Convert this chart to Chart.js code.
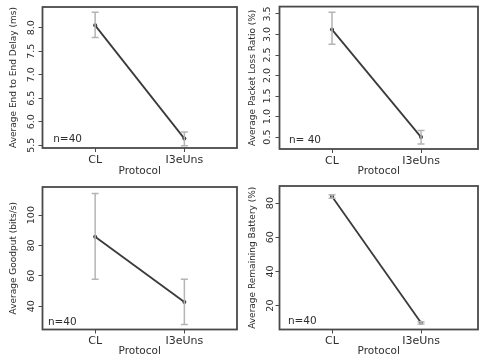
<!DOCTYPE html>
<html><head><meta charset="utf-8">
<script src="https://cdn.jsdelivr.net/npm/chart.js@4.4.0/dist/chart.umd.min.js"></script>
<style>
html,body{margin:0;padding:0;background:#fff;width:482px;height:358px;overflow:hidden}
canvas{position:absolute}
</style></head><body>
<canvas id="c1" width="241" height="179" style="left:0;top:0"></canvas>
<canvas id="c2" width="241" height="179" style="left:241px;top:0"></canvas>
<canvas id="c3" width="241" height="179" style="left:0;top:179px"></canvas>
<canvas id="c4" width="241" height="179" style="left:241px;top:179px"></canvas>
<script>
// ---- data ----
const categories = ['CL', 'I3eUns'];
const xAxisTitle = 'Protocol';
const sampleNotes = ['n=40', 'n= 40', 'n=40', 'n=40'];

const delayTitle = 'Average End to End Delay (ms)';
const delayMean = [8.05, 5.64];
const delayLow = [7.79, 5.49];
const delayHigh = [8.33, 5.78];
const delayTicks = [5.5, 6.0, 6.5, 7.0, 7.5, 8.0];
const delayRange = [5.44, 8.44];

const lossTitle = 'Average Packet Loss Ratio (%)';
const lossMean = [3.12, 0.50];
const lossLow = [2.76, 0.33];
const lossHigh = [3.54, 0.66];
const lossTicks = [0.5, 1.0, 1.5, 2.0, 2.5, 3.0, 3.5];
const lossRange = [0.21, 3.68];

const goodputTitle = 'Average Goodput (bits/s)';
const goodputMean = [85.8, 42.8];
const goodputLow = [57.8, 28.0];
const goodputHigh = [114.2, 57.8];
const goodputTicks = [40, 60, 80, 100];
const goodputRange = [24.7, 118.5];

const batteryTitle = 'Average Remaining Battery (%)';
const batteryMean = [83.9, 9.9];
const batteryLow = [82.9, 9.2];
const batteryHigh = [84.9, 10.6];
const batteryTicks = [20, 40, 60, 80];
const batteryRange = [6.0, 90.0];

// ---- layout / style ----
const FONT = 'DejaVu Sans';
const panels = [
  {id:'c1', title:delayTitle, mean:delayMean, low:delayLow, high:delayHigh, ticks:delayTicks, range:delayRange, dec:1, note:sampleNotes[0],
   area:{left:42.5, right:240, top:7, bottom:148}, xr:[0.41,2.59], tickPad:-0.8, titlePad:7.9, noteDx:10.7, noteDy:8.7, xTitlePad:1.5},
  {id:'c2', title:lossTitle, mean:lossMean, low:lossLow, high:lossHigh, ticks:lossTicks, range:lossRange, dec:1, note:sampleNotes[1],
   area:{left:38.5, right:240, top:5.5, bottom:149}, xr:[0.41,2.64], tickPad:0.9, titlePad:6.3, noteDx:9.4, noteDy:9, xTitlePad:1.5},
  {id:'c3', title:goodputTitle, mean:goodputMean, low:goodputLow, high:goodputHigh, ticks:goodputTicks, range:goodputRange, dec:0, note:sampleNotes[2],
   area:{left:42.5, right:240, top:8, bottom:150.5}, xr:[0.41,2.59], tickPad:-2.4, titlePad:7.9, noteDx:5.4, noteDy:7.4, xTitlePad:0},
  {id:'c4', title:batteryTitle, mean:batteryMean, low:batteryLow, high:batteryHigh, ticks:batteryTicks, range:batteryRange, dec:0, note:sampleNotes[3],
   area:{left:38.5, right:240, top:7, bottom:150.5}, xr:[0.41,2.64], tickPad:-1, titlePad:6.3, noteDx:8.4, noteDy:8, xTitlePad:0}
];

const extrasPlugin = {
  id: 'extras',
  afterDatasetsDraw(chart) {
    const p = chart.options.plugins.extras;
    const {ctx} = chart;
    const xs = chart.scales.x, ys = chart.scales.y;
    ctx.save();
    ctx.strokeStyle = '#b4b4b4';
    ctx.lineWidth = 1.5;
    p.low.forEach((lo, i) => {
      const x = xs.getPixelForValue(i + 1);
      const yl = ys.getPixelForValue(lo), yh = ys.getPixelForValue(p.high[i]);
      ctx.beginPath();
      ctx.moveTo(x, yl); ctx.lineTo(x, yh);
      ctx.moveTo(x - 3.5, yl); ctx.lineTo(x + 3.5, yl);
      ctx.moveTo(x - 3.5, yh); ctx.lineTo(x + 3.5, yh);
      ctx.stroke();
    });
    ctx.restore();
  },
  afterDraw(chart) {
    const p = chart.options.plugins.extras;
    const {ctx, chartArea: a} = chart;
    ctx.save();
    ctx.strokeStyle = '#4a4a4a';
    ctx.lineWidth = 1.8;
    ctx.strokeRect(a.left, a.top, a.right - a.left, a.bottom - a.top);
    ctx.fillStyle = '#2e2e2e';
    ctx.font = '10.5px "' + FONT + '"';
    ctx.textBaseline = 'middle';
    ctx.textAlign = 'left';
    ctx.fillText(p.note, a.left + p.noteDx, a.bottom - p.noteDy);
    ctx.restore();
  }
};

panels.forEach(pn => {
  const W = 241, H = 179;
  new Chart(document.getElementById(pn.id), {
    type: 'line',
    data: {
      datasets: [{
        data: categories.map((c, i) => ({x: i + 1, y: pn.mean[i]})),
        borderColor: '#3a3a3a',
        backgroundColor: '#3a3a3a',
        borderWidth: 1.8,
        pointRadius: 2,
        pointBorderWidth: 0,
        tension: 0
      }]
    },
    options: {
      responsive: false,
      devicePixelRatio: 1,
      animation: false,
      events: [],
      layout: {padding: {left: 0, top: pn.area.top, right: W - pn.area.right, bottom: 0}},
      plugins: {
        legend: {display: false},
        tooltip: {enabled: false},
        extras: {low: pn.low, high: pn.high, note: pn.note, noteDx: pn.noteDx, noteDy: pn.noteDy}
      },
      scales: {
        x: {
          type: 'linear',
          min: pn.xr[0], max: pn.xr[1],
          afterBuildTicks: s => { s.ticks = categories.map((c, i) => ({value: i + 1})); },
          afterFit: s => { s.height = H - pn.area.bottom; },
          ticks: {
            callback: v => categories[Math.round(v) - 1],
            color: '#2e2e2e', font: {family: FONT, size: 11}, padding: 1.5,
            maxRotation: 0, minRotation: 0, autoSkip: false
          },
          grid: {display: true, drawOnChartArea: false, drawTicks: true, tickLength: 4, color: '#4a4a4a', lineWidth: 1},
          border: {display: false},
          title: {display: true, text: xAxisTitle, color: '#2e2e2e', font: {family: FONT, size: 10.5}, padding: {top: 0, bottom: pn.xTitlePad}}
        },
        y: {
          type: 'linear',
          min: pn.range[0], max: pn.range[1],
          afterBuildTicks: s => { s.ticks = pn.ticks.map(v => ({value: v})); },
          afterFit: s => { s.width = pn.area.left; },
          ticks: {
            callback: v => v.toFixed(pn.dec),
            color: '#2e2e2e', font: {family: FONT, size: 9.5}, padding: pn.tickPad,
            minRotation: 90, maxRotation: 90, crossAlign: 'center', autoSkip: false
          },
          grid: {display: true, drawOnChartArea: false, drawTicks: true, tickLength: 4, color: '#4a4a4a', lineWidth: 1},
          border: {display: false},
          title: {display: true, text: pn.title, color: '#2e2e2e', font: {family: FONT, size: 9}, padding: {top: pn.titlePad, bottom: 0}}
        }
      }
    },
    plugins: [extrasPlugin]
  });
});
</script>
</body></html>
